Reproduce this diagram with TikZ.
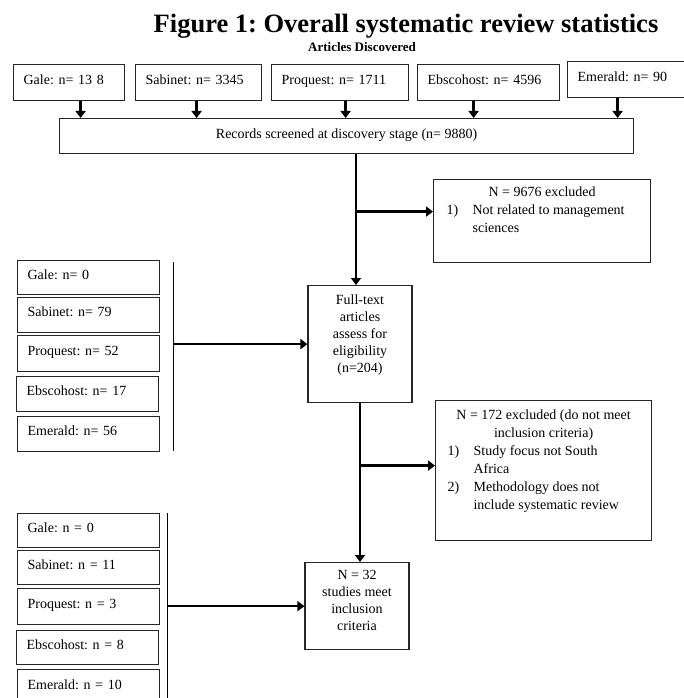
\documentclass[tikz,border=0pt]{standalone}
\usepackage{fontspec}
\setmainfont{Liberation Serif}
\usetikzlibrary{arrows.meta}
\frenchspacing

\begin{document}
\begin{tikzpicture}[x=1pt,y=-1pt,
    box/.style={draw=black!85,line width=1.2pt,font=\fontsize{14}{17}\selectfont},
    srcbox/.style={box,anchor=north west,align=left,inner xsep=10pt,inner ysep=0pt,
      text height=10pt,text depth=7pt},
    exbox/.style={box,anchor=north west,inner xsep=6pt,inner ysep=7pt},
    grpline/.style={line width=1pt},
    arr/.style={line width=2.6pt,-{Triangle[width=10pt,length=7pt]}}]

  \useasboundingbox (0,0) rectangle (684,698);

  \node[font=\fontsize{26.5}{30}\selectfont\bfseries] (title) at (406,26) {Figure 1: Overall systematic review statistics};
  \node[font=\fontsize{13}{15}\selectfont\bfseries] (found) at (362,47) {Articles Discovered};

  % databases searched
  \foreach \n/\x/\y/\w/\t [evaluate=\w as \tw using \w-20] in {
      gale/13/64/111/{Gale: n= 13 8},
      sab/135/64/126/{Sabinet: n= 3345},
      pro/271/64/137/{Proquest: n= 1711},
      ebs/417/64/142/{Ebscohost: n= 4596},
      eme/567/61/119/{Emerald: n= 90}}{
    \node[srcbox,minimum width=\w,minimum height=36,text width=\tw pt] (\n) at (\x,\y) {\t};
  }

  \node[box,anchor=north west,minimum width=574,minimum height=35,inner sep=0pt,
    text height=10pt,text depth=6pt] (rec) at (59,118)
    {Records screened at discovery stage (n= 9880)};

  \foreach \n/\dx in {gale/11.5,sab/-2,pro/5.5,ebs/-15,eme/-9.5}{
    \draw[arr] ([xshift=\dx pt]\n.south) -- ([xshift=\dx pt]\n.south |- rec.north);
  }

  \node[box,anchor=north,minimum width=104,minimum height=117,inner xsep=2pt,inner ysep=9pt] (full) at (360,285)
    {\parbox[c][99pt][t]{100pt}{\centering\baselineskip=17pt
      Full-text\\ articles\\ assess for\\ eligibility\\ (n=204)}};

  \node[exbox,minimum width=217,minimum height=83] (ex1) at (433,179)
    {\parbox[c][69pt][t]{205pt}{\baselineskip=18pt
      \centering N = 9676 excluded\par
      \raggedright\hspace*{7pt}\makebox[26pt][l]{1)}Not related to management\\
      \hspace*{33pt}sciences}};

  \node[exbox,inner ysep=9pt,minimum width=216,minimum height=140] (ex2) at (435,400)
    {\parbox[c][122pt][t]{204pt}{\baselineskip=18pt
      \centering N = 172 excluded (do not meet\\ inclusion criteria)\par
      \raggedright\hspace*{6pt}\makebox[26pt][l]{1)}Study focus not South\\
      \hspace*{32pt}Africa\\
      \hspace*{6pt}\makebox[26pt][l]{2)}Methodology does not\\
      \hspace*{32pt}include systematic review}};

  \node[box,anchor=north,minimum width=104,minimum height=87,inner xsep=2pt,inner ysep=8pt] (res) at (357,562)
    {\parbox[c][71pt][t]{100pt}{\centering\baselineskip=17pt
      N = 32\\ studies meet\\ inclusion\\ criteria}};

  % main flow
  \coordinate (m1) at ([xshift=-4pt]full.north);
  \draw[arr] (m1 |- rec.south) -- (m1);
  \draw[arr] ([yshift=9.5pt]ex1.west -| m1) -- ([yshift=9.5pt]ex1.west);
  \draw[arr] (full.south) -- (full.south |- res.north);
  \draw[arr] ([yshift=5pt]ex2.west -| full.south) -- ([yshift=5pt]ex2.west);

  % eligible per database
  \foreach \n/\x/\y/\h/\t in {
      fa/17/260/34/{Gale: n= 0},
      fb/17/297/35/{Sabinet: n= 79},
      fc/17/335/36/{Proquest: n= 52},
      fd/16/376/35/{Ebscohost: n= 17},
      fe/17/416/35/{Emerald: n= 56}}{
    \node[srcbox,minimum width=142,minimum height=\h,text width=122pt] (\n) at (\x,\y) {\t};
  }
  \coordinate (g1top) at (173,262);
  \coordinate (g1bot) at (173,451);
  \draw[grpline] (g1top) -- (g1bot);
  \draw[arr] (g1top |- full.west) -- (full.west);

  % included per database
  \foreach \n/\x/\y/\h/\t in {
      ia/17/513/34/{Gale: n = 0},
      ib/17/550/34/{Sabinet: n = 11},
      ic/17/588/36/{Proquest: n = 3},
      id/16/630/34/{Ebscohost: n = 8},
      ie/17/669/36/{Emerald: n = 10}}{
    \node[srcbox,minimum width=142,minimum height=\h,text width=122pt] (\n) at (\x,\y) {\t};
  }
  \coordinate (g3top) at (167,513);
  \coordinate (g3bot) at (167,700);
  \draw[grpline] (g3top) -- (g3bot);
  \draw[arr] (g3top |- res.west) -- (res.west);

\end{tikzpicture}
\end{document}
